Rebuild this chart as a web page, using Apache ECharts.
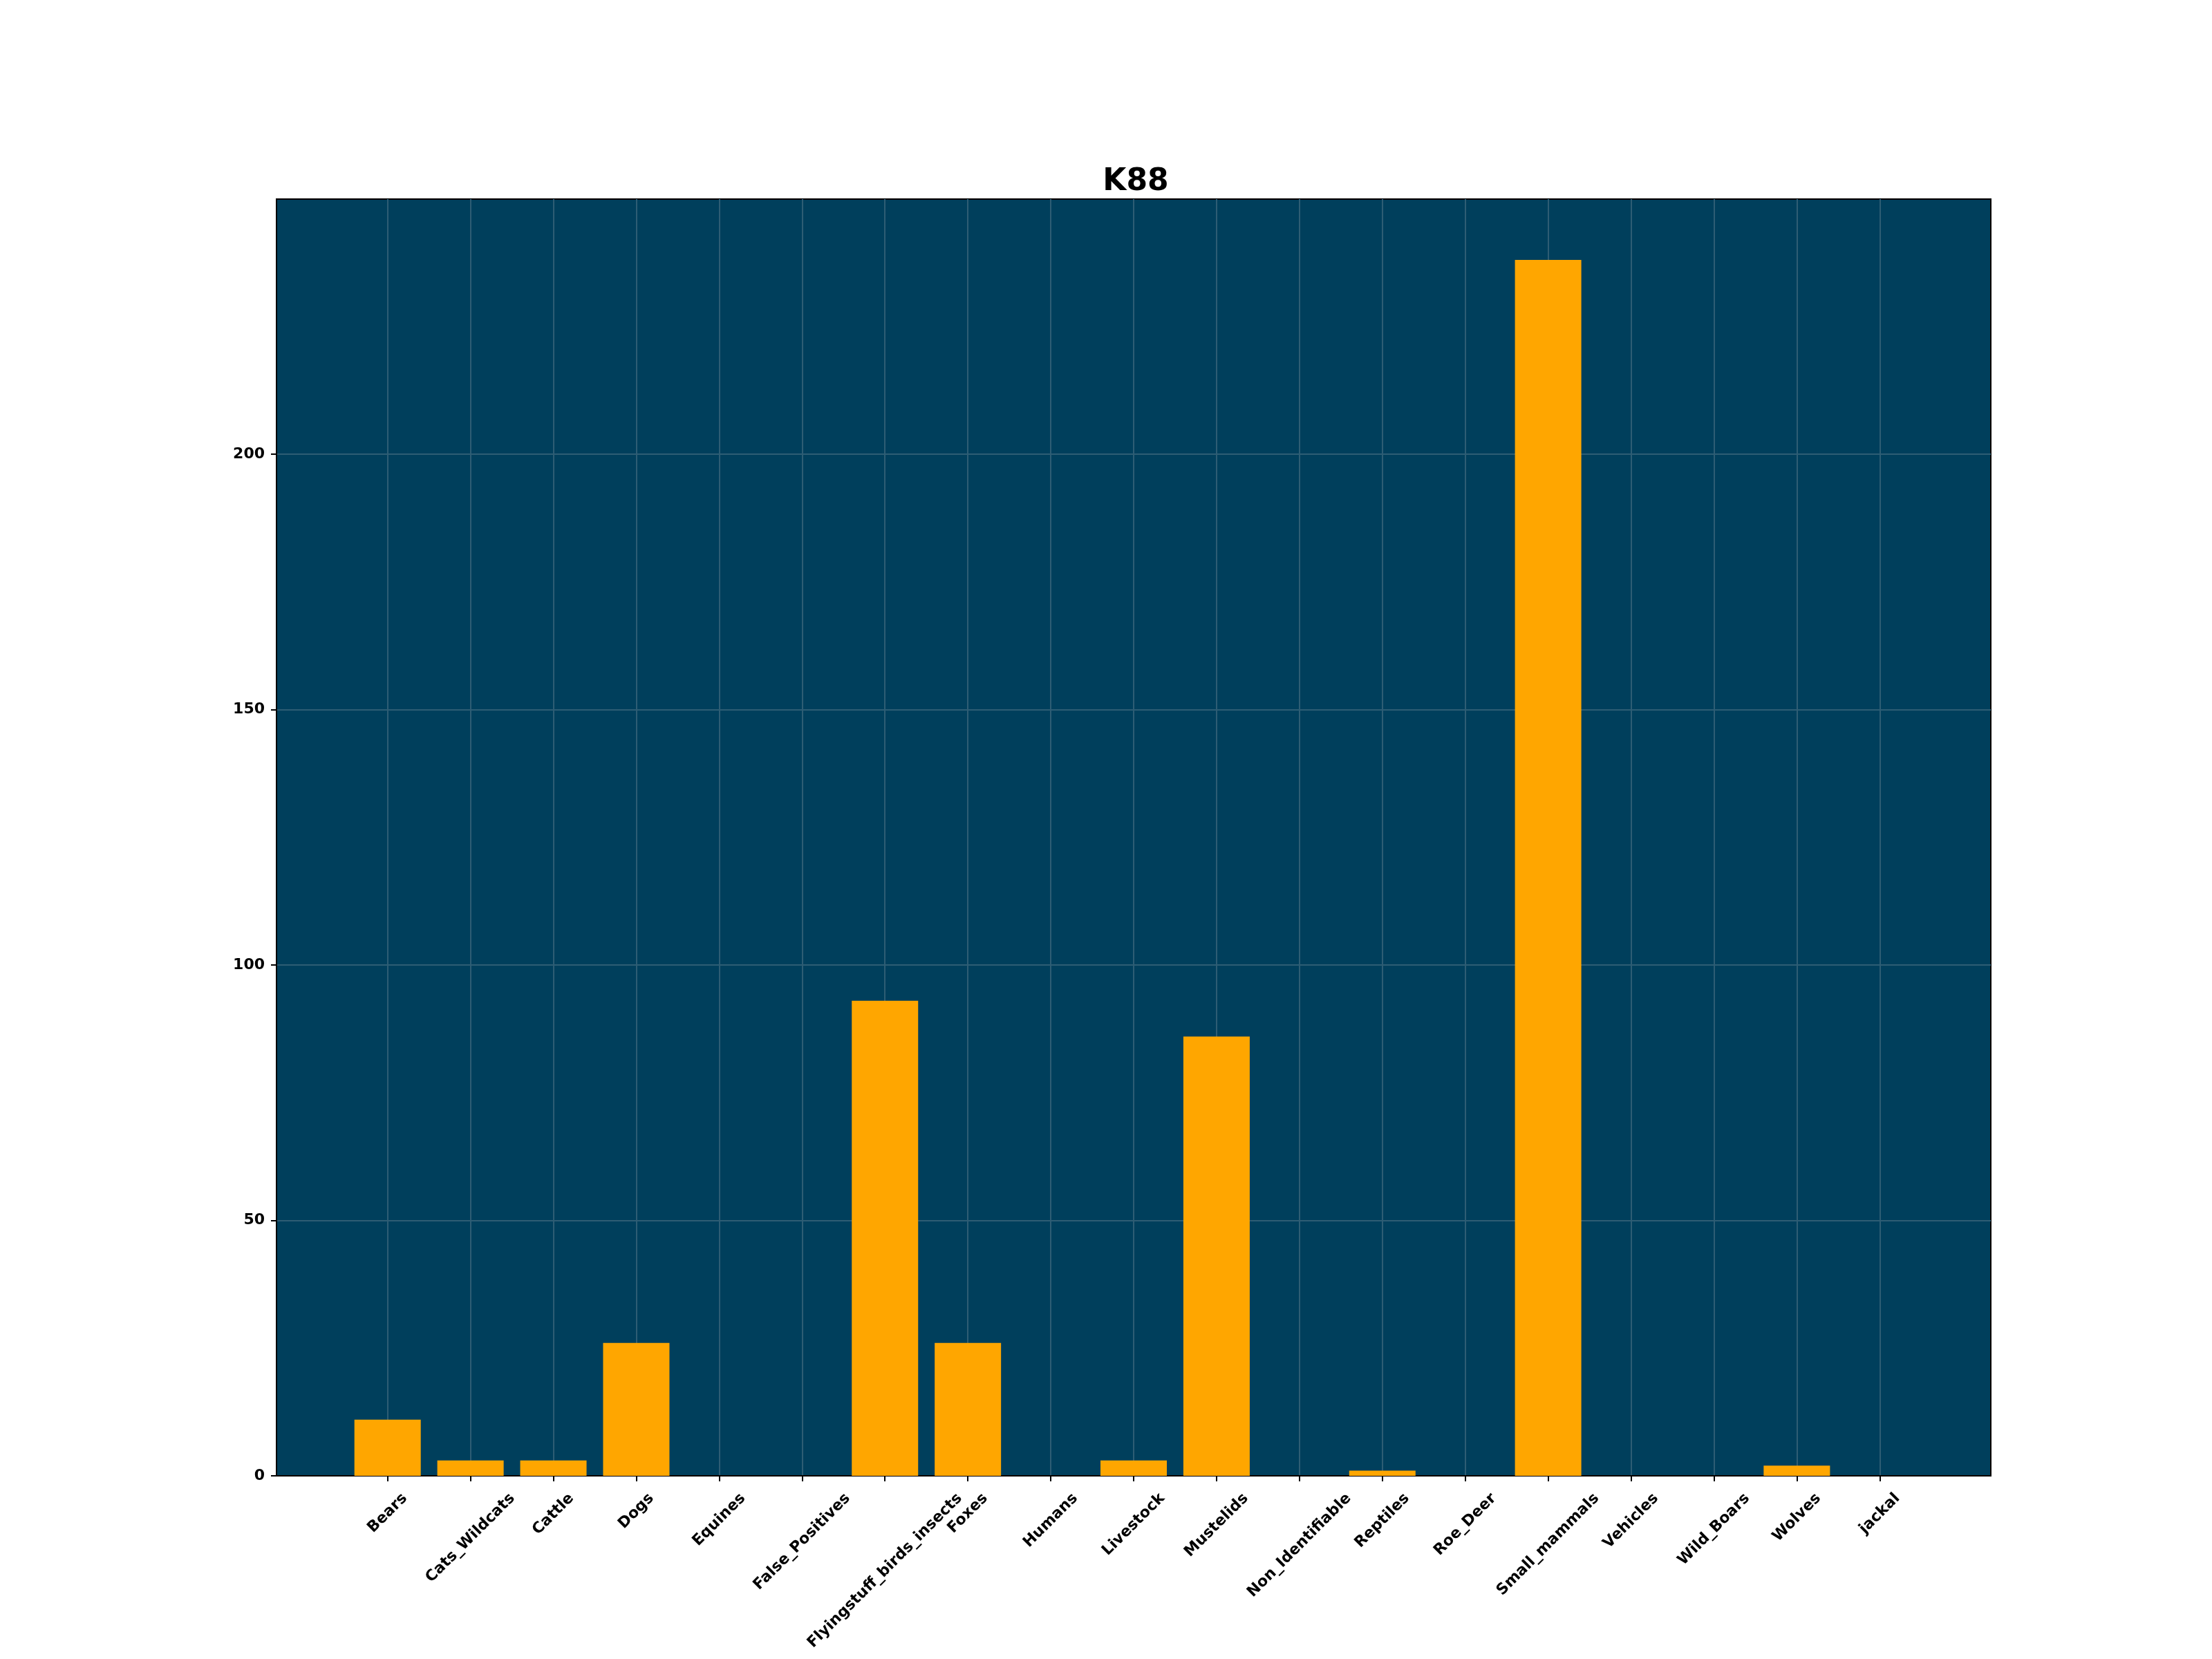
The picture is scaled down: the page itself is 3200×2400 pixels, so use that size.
<!DOCTYPE html>
<html><head><meta charset="utf-8">
<script src="https://cdn.jsdelivr.net/npm/echarts@6/dist/echarts.min.js"></script>
<style>html,body{margin:0;padding:0;background:#fff}#c{width:3200px;height:2400px}</style>
</head><body><div id="c"></div>
<script>
const chartTitle = 'K88';
const categories = ['Bears','Cats_Wildcats','Cattle','Dogs','Equines','False_Positives','Flyingstuff_birds_insects','Foxes','Humans','Livestock','Mustelids','Non_Identifiable','Reptiles','Roe_Deer','Small_mammals','Vehicles','Wild_Boars','Wolves','jackal'];
const counts = [11,3,3,26,0,0,93,26,0,3,86,0,1,0,238,0,0,2,0];
const yTickValues = [0,50,100,150,200];

const FONT = '"DejaVu Sans", sans-serif';
const LABEL_SIZE = 22;
const LABEL_LH = 26;

// matplotlib-like limits: bars of width 0.8 with 5% margins
const n = categories.length;
const xMin = -0.4 - 0.05 * (n - 1 + 0.8);
const xMax = (n - 1) + 0.4 + 0.05 * (n - 1 + 0.8);
const yMax = Math.max(...counts) * 1.05;
const catIdx = categories.map((c, i) => i);

// emulate centred rotated labels (matplotlib rotation=45, ha=center)
const ctx = document.createElement('canvas').getContext('2d');
ctx.font = 'bold ' + LABEL_SIZE + 'px ' + FONT;
const rich = {};
categories.forEach((c, i) => {
  const L = ctx.measureText(c).width;
  const p = (L + LABEL_LH) / 2;
  rich['l' + i] = {
    fontFamily: FONT, fontWeight: 'bold', fontSize: LABEL_SIZE, color: '#000',
    lineHeight: LABEL_LH, padding: [p, p, 0, 0]
  };
});

const chart = echarts.init(document.getElementById('c'));
chart.setOption({
  animation: false,
  backgroundColor: '#ffffff',
  title: {
    text: chartTitle, left: 1638, top: 237, textAlign: 'center',
    textStyle: { fontFamily: FONT, fontWeight: 'bold', fontSize: 44, color: '#000', lineHeight: 44 }
  },
  grid: {
    left: 400, right: 320, top: 288, bottom: 265,
    show: true, backgroundColor: '#003f5c', borderColor: '#000', borderWidth: 2
  },
  xAxis: {
    type: 'value', min: xMin, max: xMax,
    axisLine: { show: true, onZero: false, lineStyle: { color: '#000', width: 2 } },
    axisTick: { show: true, length: 8, lineStyle: { color: '#000', width: 2 }, customValues: catIdx },
    axisLabel: {
      // empty placeholder labels at both ends keep every category label visible
      customValues: [xMin].concat(catIdx, [xMax]),
      rotate: 45, align: 'center', verticalAlign: 'middle', margin: 20,
      formatter: v => {
        const i = Math.round(v);
        if (Math.abs(v - i) > 1e-6 || i < 0 || i >= n) return '';
        return '{l' + i + '|' + categories[i] + '}';
      },
      rich: rich
    },
    splitLine: { show: true, lineStyle: { color: '#2e5d74', width: 2 } }
  },
  yAxis: {
    type: 'value', min: 0, max: yMax, interval: 50,
    axisLine: { show: true, onZero: false, lineStyle: { color: '#000', width: 2 } },
    axisTick: { show: true, length: 8, lineStyle: { color: '#000', width: 2 }, customValues: yTickValues },
    axisLabel: { customValues: yTickValues, margin: 17, fontFamily: FONT, fontWeight: 'bold', fontSize: LABEL_SIZE, color: '#000' },
    splitLine: { show: true, lineStyle: { color: '#2e5d74', width: 2 } }
  },
  series: [{
    type: 'bar',
    data: counts.map((v, i) => [i, v]),
    barWidth: 96,
    itemStyle: { color: '#ffa600' }
  }]
});
</script>
</body></html>
